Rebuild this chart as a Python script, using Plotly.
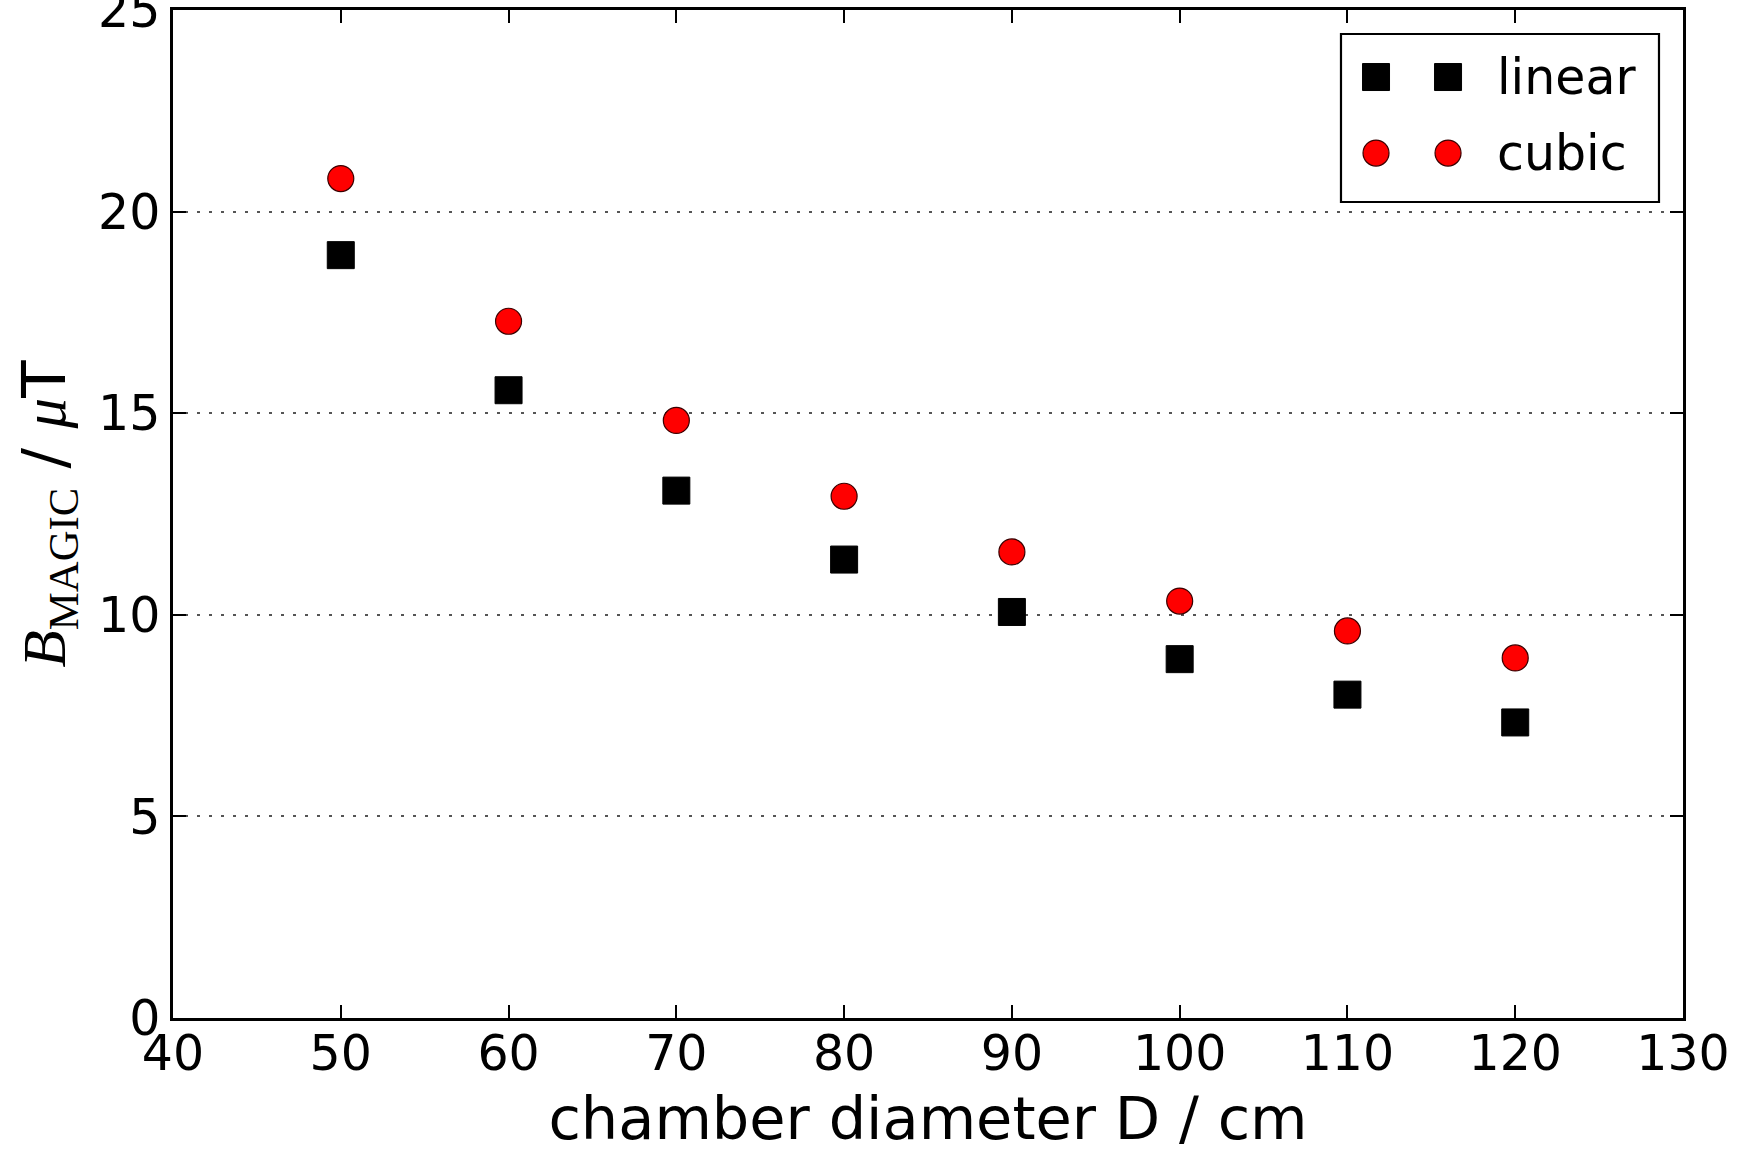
import plotly.graph_objects as go

# chamber diameter (cm) and the resulting magic field (uT) for each model
diameter_cm = [50, 60, 70, 80, 90, 100, 110, 120]
b_linear = [18.92, 15.57, 13.08, 11.37, 10.07, 8.90, 8.02, 7.33]
b_cubic = [20.82, 17.28, 14.82, 12.94, 11.56, 10.34, 9.60, 8.93]

series_names = ["linear", "cubic"]
x_ticks = [40, 50, 60, 70, 80, 90, 100, 110, 120, 130]
y_ticks = [0, 5, 10, 15, 20, 25]

SANS = "DejaVu Sans"
SERIF = "Liberation Serif"

square_style = dict(symbol="square", size=27, color="black",
                    line=dict(color="black", width=1))
circle_style = dict(symbol="circle", size=26, color="red",
                    line=dict(color="#3a0000", width=1.2))

fig = go.Figure()
fig.add_trace(go.Scatter(x=diameter_cm, y=b_linear, mode="markers",
                         name=series_names[0], marker=square_style,
                         showlegend=False))
fig.add_trace(go.Scatter(x=diameter_cm, y=b_cubic, mode="markers",
                         name=series_names[1], marker=circle_style,
                         showlegend=False))

# legend key: two sample markers per entry, drawn on a 0..1 overlay axis
key_x = [0.7967, 0.8444]
key_rows = [0.9335, 0.8581]
for name, style, row in zip(series_names, [square_style, circle_style], key_rows):
    fig.add_trace(go.Scatter(x=key_x, y=[row, row], mode="markers",
                             marker=style, xaxis="x2", yaxis="y2",
                             showlegend=False, hoverinfo="skip"))
    fig.add_annotation(x=0.8755, y=row, xref="paper", yref="paper",
                       text=name, showarrow=False, xanchor="left",
                       yanchor="middle", font=dict(family=SANS, size=49,
                                                   color="black"))

fig.add_shape(type="rect", xref="paper", yref="paper",
              x0=0.7735, x1=0.9841, y0=0.8095, y1=0.9762,
              line=dict(color="black", width=2.2), fillcolor="rgba(0,0,0,0)")

axis_common = dict(
    showline=True, linecolor="black", linewidth=2.5, mirror="ticks",
    ticks="inside", ticklen=13, tickwidth=1.5, tickcolor="black",
    tickfont=dict(family=SANS, size=49, color="black"),
    ticklabeloverflow="allow", zeroline=False, automargin=False,
)

fig.update_layout(
    width=1749, height=1159,
    margin=dict(l=173, r=66, t=10, b=141),
    paper_bgcolor="white", plot_bgcolor="white",
    xaxis=dict(range=[40, 130], tickvals=x_ticks, showgrid=False,
               ticklabelstandoff=-10,
               title=dict(text="chamber diameter D / cm", standoff=18,
                          font=dict(family=SANS, size=59, color="black")),
               **axis_common),
    yaxis=dict(range=[0, 25], tickvals=y_ticks, showgrid=True,
               gridcolor="#555555", gridwidth=1.5, griddash="3px,9px",
               title=dict(
                   text=(f'<span style="font-family:{SERIF}"><i>B</i>'
                         f'<sub>MAGIC</sub></span> / '
                         f'<span style="font-family:{SERIF}"><i>μ</i></span>T'),
                   standoff=13,
                   font=dict(family=SANS, size=61, color="black")),
               **axis_common),
    xaxis2=dict(range=[0, 1], overlaying="x", visible=False),
    yaxis2=dict(range=[0, 1], overlaying="y", visible=False),
)

fig.write_html("out.html")
